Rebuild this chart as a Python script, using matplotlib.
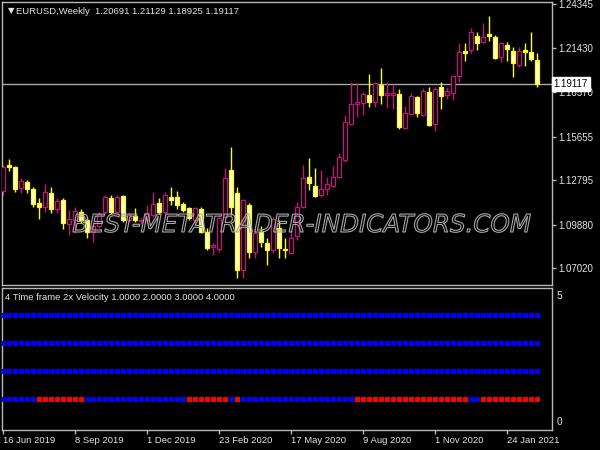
import matplotlib
matplotlib.use('Agg')
import matplotlib.pyplot as plt
import matplotlib.transforms as mtransforms
import matplotlib.patheffects as pe
import numpy as np
import pandas as pd

#%% data: EURUSD weekly candles, 16 Jun 2019 .. 28 Feb 2021

opens = [1.12087, 1.13791, 1.13660, 1.12284, 1.12677, 1.12218, 1.11300, 1.11038, 1.11956, 1.10907,
         1.11497, 1.09924, 1.10186, 1.10710, 1.10186, 1.09399, 1.09793, 1.10710, 1.11628, 1.10710,
         1.11759, 1.10186, 1.10448, 1.10120, 1.10186, 1.10514, 1.11300, 1.10710, 1.11694, 1.11694,
         1.11235, 1.10973, 1.10186, 1.10907, 1.09399, 1.08416, 1.08285, 1.10383, 1.13464, 1.11956,
         1.06909, 1.11169, 1.08088, 1.09399, 1.08678, 1.08220, 1.09662, 1.08285, 1.08023, 1.09137,
         1.11038, 1.13005, 1.12415, 1.11825, 1.12218, 1.12415, 1.13005, 1.14119, 1.16479, 1.17790,
         1.17855, 1.18380, 1.17921, 1.19035, 1.18380, 1.18380, 1.18445, 1.16217, 1.17134, 1.18249,
         1.17069, 1.18576, 1.16479, 1.18904, 1.18380, 1.18511, 1.19625, 1.21264, 1.21330, 1.22247,
         1.21854, 1.22378, 1.22182, 1.20871, 1.21657, 1.21264, 1.20346, 1.21330, 1.21198, 1.20691]

highs = [1.13791, 1.14185, 1.13726, 1.12939, 1.12808, 1.12349, 1.11628, 1.12546, 1.12349, 1.11628,
         1.11628, 1.10842, 1.11038, 1.10907, 1.10383, 1.10055, 1.10710, 1.11825, 1.11825, 1.11825,
         1.11825, 1.10645, 1.10973, 1.10317, 1.11169, 1.12021, 1.11628, 1.12021, 1.12349, 1.12087,
         1.11366, 1.11038, 1.11038, 1.11038, 1.09662, 1.08678, 1.10514, 1.13595, 1.14971, 1.12349,
         1.11563, 1.11300, 1.09662, 1.09793, 1.09006, 1.10383, 1.10186, 1.09006, 1.09531, 1.11366,
         1.13791, 1.14250, 1.13595, 1.13464, 1.13005, 1.13726, 1.14578, 1.17069, 1.19166, 1.19166,
         1.18576, 1.19756, 1.19232, 1.20150, 1.19232, 1.19101, 1.18773, 1.17659, 1.18511, 1.18314,
         1.18839, 1.18904, 1.18904, 1.19232, 1.18904, 1.19691, 1.21788, 1.21788, 1.22772, 1.22509,
         1.23099, 1.23558, 1.22313, 1.21854, 1.21854, 1.21526, 1.21526, 1.21788, 1.22509, 1.21129]

lows = [1.11825, 1.13398, 1.12021, 1.11956, 1.11956, 1.11038, 1.10252, 1.10710, 1.10645, 1.10645,
        1.09596, 1.09203, 1.09334, 1.09989, 1.09006, 1.08744, 1.09662, 1.10579, 1.10579, 1.10579,
        1.10055, 1.10055, 1.10055, 1.09924, 1.09924, 1.10383, 1.10579, 1.10579, 1.11169, 1.10907,
        1.10710, 1.10186, 1.09989, 1.09334, 1.08220, 1.07892, 1.08088, 1.10317, 1.10514, 1.06384,
        1.06384, 1.07695, 1.07695, 1.08416, 1.07236, 1.08023, 1.07695, 1.07695, 1.07957, 1.08875,
        1.10973, 1.12153, 1.11694, 1.11694, 1.11825, 1.12349, 1.12939, 1.13988, 1.16413, 1.16938,
        1.17069, 1.17593, 1.17593, 1.17790, 1.17528, 1.17462, 1.16151, 1.16151, 1.17069, 1.16938,
        1.17003, 1.16348, 1.16020, 1.17462, 1.18118, 1.18052, 1.19232, 1.20608, 1.21133, 1.21330,
        1.21788, 1.21919, 1.20740, 1.20543, 1.20608, 1.19560, 1.20215, 1.20281, 1.20608, 1.18925]

closes = [1.13660, 1.13660, 1.12218, 1.12742, 1.12218, 1.11235, 1.11038, 1.12021, 1.10907, 1.11431,
          1.09989, 1.10252, 1.10776, 1.10186, 1.09399, 1.09793, 1.10579, 1.11694, 1.10710, 1.11694,
          1.10186, 1.10514, 1.10186, 1.10186, 1.10645, 1.11235, 1.10710, 1.11825, 1.11497, 1.11169,
          1.10842, 1.10317, 1.10973, 1.09399, 1.08351, 1.08547, 1.10317, 1.12939, 1.11038, 1.06909,
          1.11497, 1.08088, 1.09334, 1.08744, 1.08220, 1.10252, 1.08351, 1.08220, 1.09006, 1.11038,
          1.12939, 1.12611, 1.11759, 1.12218, 1.12546, 1.13005, 1.14316, 1.16610, 1.17790, 1.17921,
          1.18445, 1.17921, 1.19166, 1.18380, 1.18511, 1.18511, 1.16282, 1.17200, 1.18314, 1.17200,
          1.18642, 1.16413, 1.18773, 1.18314, 1.18642, 1.19625, 1.21198, 1.21133, 1.22509, 1.21788,
          1.22182, 1.22247, 1.20805, 1.21788, 1.21395, 1.20477, 1.21264, 1.21198, 1.20740, 1.19117]

price_ticks = [1.24345, 1.21430, 1.18570, 1.15655, 1.12795, 1.09880, 1.07020]

# velocity state per timeframe (1 = up/blue, 0 = down/red)
vel_levels = [1.0, 2.0, 3.0, 4.0]
vel_tf1 = [1, 1, 1, 1, 1, 1, 0, 0, 0, 0, 0, 0, 0, 0, 1, 1, 1, 1, 1, 1,
           1, 1, 1, 1, 1, 1, 1, 1, 1, 1, 1, 0, 0, 0, 0, 0, 0, 0, 1, 0,
           1, 1, 1, 1, 1, 1, 1, 1, 1, 1, 1, 1, 1, 1, 1, 1, 1, 1, 1, 0,
           0, 0, 0, 0, 0, 0, 0, 0, 0, 0, 0, 0, 0, 0, 0, 0, 0, 0, 1, 1,
           0, 0, 0, 0, 0, 0, 0, 0, 0, 0]
vel_tf2 = [1] * 90
vel_tf3 = [1] * 90
vel_tf4 = [1] * 90

dates = pd.date_range('2019-06-16', periods=len(opens), freq='W-SUN')

#%% figure

W, H = 600, 450
fig = plt.figure(figsize=(6, 4.5), dpi=100, facecolor='black')
lab_font = ['Liberation Sans', 'DejaVu Sans']
lab_size = 6.8
txt_col = '#E4E4E4'
frame_col = '#B8B8B8'


def px_axes(x0, y0, x1, y1):
    return fig.add_axes([x0 / W, 1 - y1 / H, (x1 - x0) / W, (y1 - y0) / H])


ax = px_axes(2, 2, 552, 285)
ax2 = px_axes(2, 288, 552, 430)

for a in (ax, ax2):
    a.set_facecolor('black')
    for s in a.spines.values():
        s.set_color(frame_col)
        s.set_linewidth(1)
    a.set_xlim(-0.22, 91.45)

#%% candles
o = np.array(opens)
h = np.array(highs)
l = np.array(lows)
c = np.array(closes)
x = np.arange(len(o))
bull = c > o
edge = np.where(bull, '#C0157C', '#FFFF00')
face = np.where(bull, 'black', '#FFFFD8')

ax.vlines(x, l, h, colors=edge, lw=1, zorder=2)
ax.bar(x, np.abs(c - o), bottom=np.minimum(o, c), width=0.62,
       color=face, edgecolor=edge, lw=0.9, zorder=3)

ax.axhline(c[-1], color='#A8A8A8', lw=1, zorder=1)

ax.set_ylim(1.05925, 1.24476)
ax.yaxis.tick_right()
ax.set_yticks(price_ticks)
ax.set_yticklabels(['%.5f' % p for p in price_ticks])
ax.tick_params(axis='y', colors=frame_col, labelcolor=txt_col, length=3, width=1, pad=1.5)
ax.set_xticks([])
for t in ax.get_yticklabels():
    t.set_fontfamily(lab_font)
    t.set_fontsize(lab_size + 0.2)

# current price box
tr = mtransforms.blended_transform_factory(ax.transAxes, ax.transData)
ax.text(1.003, c[-1], '%.5f' % c[-1], transform=tr, ha='left', va='center',
        color='black', fontsize=lab_size + 0.2, family=lab_font, zorder=10, clip_on=False,
        bbox=dict(boxstyle='square,pad=0.2', fc='white', ec='white'))

fig.text(8 / W, 1 - 11 / H, '\u25bc', color=txt_col, fontsize=6, ha='left', va='center')
fig.text(16 / W, 1 - 11 / H, 'EURUSD,Weekly  %.5f %.5f %.5f %.5f' % (o[-1], h[-1], l[-1], c[-1]),
         color=txt_col, fontsize=lab_size, family=lab_font, ha='left', va='center')

# watermark
fig.text(302 / W, 1 - 225 / H, 'BEST-METATRADER-INDICATORS.COM', ha='center', va='center',
         fontsize=17.7, family='DejaVu Sans', style='italic', color=(0, 0, 0, 0), zorder=20,
         path_effects=[pe.Stroke(linewidth=0.8, foreground='#A8A8A8')])

#%% velocity panel
vel_rows = [vel_tf1, vel_tf2, vel_tf3, vel_tf4]
for lev, row in zip(vel_levels, vel_rows):
    cols = ['#0000FF' if v else '#FF0000' for v in row]
    ax2.scatter(x, [lev] * len(row), c=cols, marker='s', s=11.5, linewidths=0, zorder=3)

ax2.set_ylim(-0.104, 5.0)
ax2.set_yticks([])
ticks = x[::12]
ax2.set_xticks(ticks)
ax2.set_xticklabels([d.strftime('%d %b %Y').lstrip('0') for d in dates[ticks]])
ax2.tick_params(axis='x', colors=frame_col, labelcolor=txt_col, length=3, width=1, pad=1.5)
for t in ax2.get_xticklabels():
    t.set_fontfamily(lab_font)
    t.set_fontsize(lab_size)
    t.set_ha('left')

fig.text(5 / W, 1 - 298 / H, '4 Time frame 2x Velocity 1.0000 2.0000 3.0000 4.0000',
         color=txt_col, fontsize=lab_size, family=lab_font, ha='left', va='center')
fig.text(557 / W, 1 - 296 / H, '5', color=txt_col, fontsize=lab_size + 0.5, family=lab_font, va='center')
fig.text(557 / W, 1 - 422 / H, '0', color=txt_col, fontsize=lab_size + 0.5, family=lab_font, va='center')

fig.savefig('out.png', dpi=100, facecolor='black')
